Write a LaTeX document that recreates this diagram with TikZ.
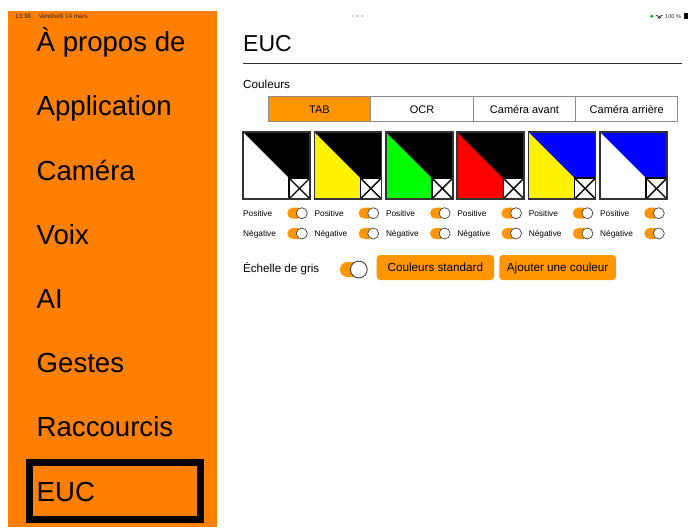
\documentclass[tikz,border=0pt]{standalone}
\usepackage{fontspec}
\setmainfont{Liberation Sans}
\definecolor{side}{RGB}{255,128,0}
\definecolor{iosorange}{RGB}{255,149,0}
\definecolor{seggray}{RGB}{140,140,140}
\newcommand{\fsz}[1]{\fontsize{#1}{#1}\selectfont}
\begin{document}
\begin{tikzpicture}[x=1pt,y=-1pt,
  txt/.style={inner sep=0pt, anchor=base west},
  menu/.style={txt, font=\fsz{27.6}},
  small/.style={txt, font=\fsz{8.3}},
  seg/.style={draw=seggray, line width=0.9pt, minimum width=102.4pt, minimum height=25pt,
     inner sep=0pt, font=\fsz{11}, text height=7.9pt, text depth=0pt},
  btn/.style={fill=iosorange, rounded corners=3.5pt, minimum height=25pt, inner sep=0pt,
     font=\fsz{11.7}, text height=8.4pt, text depth=0pt},
  knob/.style={fill=white, draw=black!75, line width=0.7pt},
  swbox/.style={line width=1.4pt, draw=black}
]
\useasboundingbox (0,0) rectangle (690,527);
\fill[white] (0,0) rectangle (690,527);
% sidebar
\fill[side] (8,11) rectangle (217.3,527);
\node[txt, font=\fsz{6.3}, text=black!85] (time) at (15,18.8) {13:38};
\node[txt, font=\fsz{6.3}, text=black!85] (date) at (38.3,18.8) {Vendredi 14 mars};
\foreach \t [count=\i from 0] in {À propos de, Application, Caméra, Voix, AI, Gestes, Raccourcis, EUC}{
  \node[menu] (m\i) at (36.5,51.7+64.2*\i) {\t};
}
\draw[line width=7pt] (29.5,462.7) rectangle (200.5,519.8);
% top status
\foreach \d in {353,357.5,362} \fill[black!35] (\d,16) circle (0.85);
\fill[green!70!black] (651.7,16.3) circle (1.6);
\begin{scope}[line width=0.7pt, black!80]
  \fill[black!80] (659.3,19) -- ++(-2.6,-2.6) arc[start angle=135,end angle=45,radius=3.68] -- cycle;
  \draw (656,15.2) arc[start angle=135,end angle=45,radius=4.6];
\end{scope}
\node[txt, font=\fsz{5.6}, text=black!85] (batt) at (665,18.3) {100 \%};
\fill[black] (683.5,13.5) rectangle (688,18.8);
% title
\node[txt, font=\fsz{23}] (title) at (243,51.7) {EUC};
\draw[line width=1pt, black!80] (243,63.3) -- (681.5,63.3);
\node[txt, font=\fsz{11.7}] (couleurs) at (243,88.3) {Couleurs};
% segmented control
\node[seg, fill=iosorange] (s1) at (319.5,109.2) {TAB};
\node[seg] (s2) at (422,109.2) {OCR};
\node[seg] (s3) at (524.5,109.2) {Caméra avant};
\node[seg] (s4) at (626.7,109.2) {Caméra arrière};
% swatches
\foreach \a/\b [count=\k from 0] in {white/black, yellow/black, green/black, red/black, yellow/blue, white/blue}{
  \pgfmathsetmacro\sx{243+71.4*\k}
  \fill[\a] (\sx,132) rectangle (\sx+67,199);
  \fill[\b] (\sx,132) -- (\sx+67,132) -- (\sx+67,178) -- (\sx+46,178) -- cycle;
  \draw[swbox, fill=white] (\sx+46,178) rectangle (\sx+67,199);
  \draw[swbox] (\sx+46,178) -- (\sx+67,199) (\sx+46,199) -- (\sx+67,178);
  \draw[line width=1.5pt, black!80] (\sx,132) rectangle (\sx+67,199);
  \node[small] (pos\k) at (\sx,216.2) {Positive};
  \node[small] (neg\k) at (\sx,236.5) {Négative};
  \foreach \yy in {213.2,233.5}{
    \fill[iosorange, rounded corners=5.4pt] (\sx+44.3,\yy-5.5) rectangle (\sx+60,\yy+5.5);
    \draw[knob] (\sx+58.8,\yy) circle (5.5);
  }
}
% bottom row
\node[txt, font=\fsz{11.6}] (gris) at (243,272.3) {Échelle de gris};
\fill[iosorange, rounded corners=7.4pt] (340,262) rectangle (362,277);
\draw[knob, line width=0.9pt] (358.8,269.5) circle (8.4);
\node[btn, minimum width=117.3pt] (std) at (435.35,267.5) {Couleurs standard};
\node[btn, minimum width=116.7pt] (add) at (557.65,267.5) {Ajouter une couleur};
\end{tikzpicture}
\end{document}
